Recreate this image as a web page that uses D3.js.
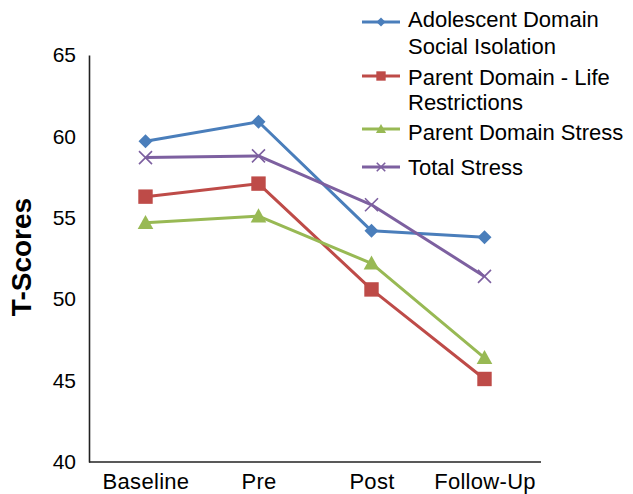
<!DOCTYPE html>
<html>
<head>
<meta charset="utf-8">
<script src="https://cdn.jsdelivr.net/npm/d3@7"></script>
<style>
  html, body { margin: 0; padding: 0; background: #fff; }
  svg { display: block; font-family: "Liberation Sans", Arial, sans-serif; }
</style>
</head>
<body>
<svg id="chart" width="633" height="494"></svg>
<script>
const categories = ["Baseline", "Pre", "Post", "Follow-Up"];
const adolescentSocialIsolation = [59.7, 60.9, 54.2, 53.8];
const parentLifeRestrictions = [56.3, 57.1, 50.6, 45.1];
const parentDomainStress = [54.7, 55.1, 52.2, 46.4];
const totalStress = [58.7, 58.8, 55.8, 51.4];
const yTicks = [40, 45, 50, 55, 60, 65];
const seriesNames = [
  ["Adolescent Domain", "Social Isolation"],
  ["Parent Domain - Life", "Restrictions"],
  ["Parent Domain Stress"],
  ["Total Stress"]
];

const series = [
  { name: seriesNames[0], values: adolescentSocialIsolation, color: "#4A7EBB", marker: "diamond" },
  { name: seriesNames[1], values: parentLifeRestrictions, color: "#BE4B48", marker: "square" },
  { name: seriesNames[2], values: parentDomainStress, color: "#98B954", marker: "triangle" },
  { name: seriesNames[3], values: totalStress, color: "#7D60A0", marker: "x" }
];

const svg = d3.select("#chart");
const mLeft = 89, mRight = 541, mTop = 55, mBottom = 462;

const x = d3.scalePoint().domain(categories).range([mLeft, mRight]).padding(0.5);
const y = d3.scaleLinear().domain([40, 65]).range([mBottom, mTop]);

// axes
const yAxis = d3.axisLeft(y).tickValues(yTicks).tickSize(0).tickPadding(13);
const gy = svg.append("g").attr("transform", `translate(${mLeft},0)`).call(yAxis);
gy.select(".domain").attr("stroke", "#222").attr("stroke-width", 1.6);
gy.selectAll("text").attr("font-size", 21).attr("fill", "#000")
  .attr("font-family", "Liberation Sans, Arial, sans-serif");

const xAxis = d3.axisBottom(x).tickSize(0).tickPadding(10);
const gx = svg.append("g").attr("transform", `translate(0,${mBottom})`).call(xAxis);
gx.select(".domain").attr("stroke", "#222").attr("stroke-width", 1.6)
  .attr("d", `M${mLeft},0H${mRight}`);
gx.selectAll("text").attr("font-size", 22).attr("fill", "#000")
  .attr("dy", null).attr("y", 27).attr("letter-spacing", 0.3)
  .attr("font-family", "Liberation Sans, Arial, sans-serif");

// y title
svg.append("text")
  .attr("transform", `translate(31,257) rotate(-90)`)
  .attr("text-anchor", "middle")
  .attr("font-size", 28).attr("font-weight", "bold").attr("fill", "#000")
  .text("T-Scores");

function drawMarker(g, type, color, cx, cy, scale) {
  const s = scale || 1;
  if (type === "diamond") {
    const r = 7 * s;
    g.append("path").attr("d", `M${cx},${cy - r}L${cx + r},${cy}L${cx},${cy + r}L${cx - r},${cy}Z`)
      .attr("fill", color);
  } else if (type === "square") {
    const r = 7.2 * s;
    g.append("rect").attr("x", cx - r).attr("y", cy - r).attr("width", 2 * r).attr("height", 2 * r)
      .attr("fill", color);
  } else if (type === "triangle") {
    const r = 7.8 * s;
    g.append("path").attr("d", `M${cx},${cy - r}L${cx + r},${cy + r * 0.8}L${cx - r},${cy + r * 0.8}Z`)
      .attr("fill", color);
  } else if (type === "x") {
    const r = 6.5 * s;
    g.append("path").attr("d", `M${cx - r},${cy - r}L${cx + r},${cy + r}M${cx - r},${cy + r}L${cx + r},${cy - r}`)
      .attr("stroke", color).attr("stroke-width", 1.6).attr("fill", "none");
  }
}

const line = d3.line().x((d, i) => x(categories[i])).y(d => y(d));

series.forEach(s => {
  const g = svg.append("g");
  g.append("path").datum(s.values).attr("d", line)
    .attr("fill", "none").attr("stroke", s.color).attr("stroke-width", 3)
    .attr("stroke-linejoin", "round");
  s.values.forEach((v, i) => drawMarker(g, s.marker, s.color, x(categories[i]), y(v), 1));
});

// legend
const legendLineY = [22, 76, 129, 167];
const legendTextY = [[19, 46], [77, 102], [132], [167]];
const legend = svg.append("g");
series.forEach((s, i) => {
  const ly = legendLineY[i];
  legend.append("line").attr("x1", 362).attr("x2", 400).attr("y1", ly).attr("y2", ly)
    .attr("stroke", s.color).attr("stroke-width", 3);
  drawMarker(legend, s.marker, s.color, 381, ly, 0.65);
  s.name.forEach((t, j) => {
    legend.append("text").attr("x", 408).attr("y", legendTextY[i][j] + 7.5)
      .attr("font-size", 22).attr("fill", "#000").text(t);
  });
});
</script>
</body>
</html>
